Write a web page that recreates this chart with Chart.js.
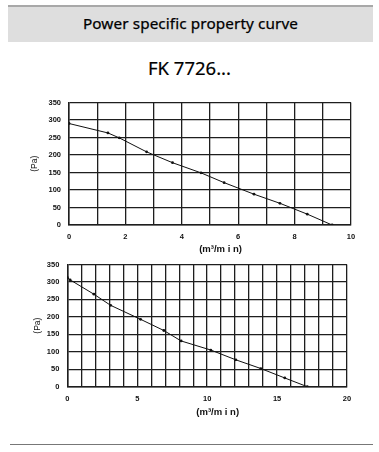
<!DOCTYPE html>
<html>
<head>
<meta charset="utf-8">
<script src="https://cdn.jsdelivr.net/npm/chart.js@4.4.1/dist/chart.umd.min.js"></script>
<style>
  html, body { margin: 0; padding: 0; background: #ffffff; }
  body { width: 379px; height: 452px; position: relative; overflow: hidden; font-family: "Noto Sans", sans-serif; }
  #band { position: absolute; left: 8px; top: 5px; width: 365px; height: 37px; background: #dedede; border-top: 2px solid #a8a8a8; box-sizing: border-box; }
  #band span { position: absolute; left: 0; right: 0; top: 6px; text-align: center; font-size: 15.3px; color: #000; letter-spacing: 0.1px; -webkit-text-stroke: 0.25px #000; }
  #model { position: absolute; left: 0; right: 0; top: 55px; text-align: center; font-size: 18.5px; color: #000; -webkit-text-stroke: 0.2px #000; }
  .cv { position: absolute; left: 0; width: 379px; height: 170px; }
  #c1wrap { top: 90px; }
  #c2wrap { top: 252px; }
  #rule { position: absolute; left: 10px; top: 444px; width: 363px; height: 0; border-top: 1.5px solid #777; }
</style>
</head>
<body>
<div id="band"><span>Power specific property curve</span></div>
<div id="model">FK 7726...</div>
<div class="cv" id="c1wrap"><canvas id="c1" width="379" height="170"></canvas></div>
<div class="cv" id="c2wrap"><canvas id="c2" width="379" height="170"></canvas></div>
<div id="rule"></div>
<script>
// ---- data ----
const flowA = [0, 1.38, 1.78, 2.75, 3.67, 4.68, 5.5, 6.56, 7.48, 8.45, 9.33];
const pressA = [290, 263, 249, 209, 178, 149, 121, 88, 62, 31, 0];
const flowB = [0, 0.2, 1.9, 3.1, 5.24, 6.9, 8.14, 10.26, 12.05, 13.84, 15.55, 17.16];
const pressB = [313, 306, 265, 233, 193, 161, 131, 105, 77, 52, 25, 0];
const xMaxA = 10, xLabelStepA = 2;
const xMaxB = 20, xLabelStepB = 5;
const yMax = 350, yStep = 50;
const yTitle = '(Pa)';
const xTitle = '        (m³/m i n)';

const tickFont = { family: '"Liberation Sans", Arial, sans-serif', size: 7.5, weight: 'bold' };
const titleFont = { family: '"Liberation Sans", Arial, sans-serif', size: 9.5, weight: 'bold' };
const gridColor = '#1e1e1e';

function makeChart(id, xs, ys, xMax, labelStep, cfg) {
  const pts = xs.map((x, i) => ({ x: x, y: ys[i] }));
  return new Chart(document.getElementById(id), {
    type: 'scatter',
    data: { datasets: [{
      data: pts,
      showLine: true,
      borderColor: '#111',
      borderWidth: 1,
      backgroundColor: '#111',
      pointRadius: 1.4,
      pointHoverRadius: 1.4,
      pointBorderWidth: 0,
      tension: 0
    }] },
    options: {
      responsive: false,
      animation: false,
      events: [],
      layout: { padding: { top: cfg.padTop, right: cfg.padRight, left: 0, bottom: 0 } },
      plugins: { legend: { display: false }, tooltip: { enabled: false } },
      scales: {
        x: {
          type: 'linear', min: 0, max: xMax,
          afterFit: (s) => { s.height = cfg.xHeight; },
          grid: { color: gridColor, lineWidth: 1.3, drawTicks: false },
          border: { color: gridColor, width: 1.5 },
          ticks: {
            stepSize: 1, padding: 7.5, color: '#111', font: tickFont, maxRotation: 0, autoSkip: false,
            callback: (v) => (v % labelStep === 0 ? String(v) : '')
          },
          title: { display: true, text: xTitle, color: '#111', font: titleFont, padding: { top: 0, bottom: cfg.xTitlePad } }
        },
        y: {
          type: 'linear', min: 0, max: yMax,
          afterFit: (s) => { s.width = cfg.yWidth; },
          grid: { color: gridColor, lineWidth: 1.3, drawTicks: false },
          border: { color: gridColor, width: 1.5 },
          ticks: { stepSize: yStep, padding: 8, color: '#111', font: tickFont },
          title: { display: true, text: yTitle, color: '#111', font: { family: titleFont.family, size: 8.5, weight: 'normal' }, padding: { top: cfg.yTitlePad, bottom: 0 } }
        }
      }
    }
  });
}

makeChart('c1', flowA, pressA, xMaxA, xLabelStepA,
  { padTop: 9, padRight: 28, xHeight: 35, yWidth: 69, xTitlePad: 5, yTitlePad: 30 });
makeChart('c2', flowB, pressB, xMaxB, xLabelStepB,
  { padTop: 10, padRight: 32, xHeight: 35.3, yWidth: 67.3, xTitlePad: 3.5, yTitlePad: 33 });
</script>
</body>
</html>
